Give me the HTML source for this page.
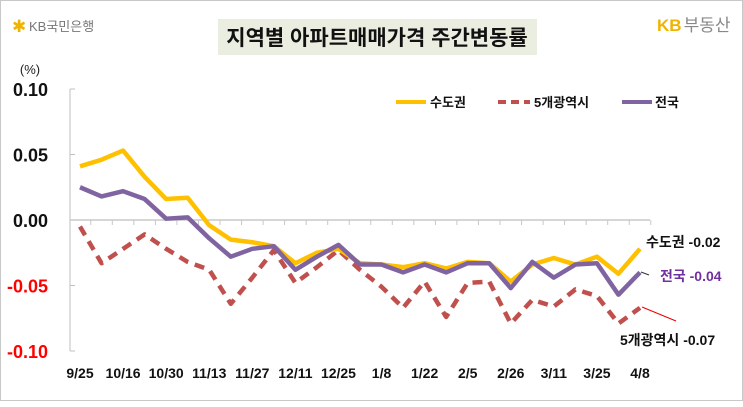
<!DOCTYPE html>
<html><head><meta charset="utf-8"><style>
body{margin:0;width:743px;height:402px;background:#fff;overflow:hidden;font-family:"Liberation Sans","Noto Sans CJK KR",sans-serif}
svg text{font-family:"Liberation Sans","Noto Sans CJK KR",sans-serif}
</style></head><body>
<svg width="743" height="402">
<rect x="0.5" y="0.5" width="742" height="400" fill="#fff" stroke="#c8c8c8"/>
<rect x="218" y="18" width="319" height="55" fill="#e9eee0" transform="translate(0,0)" style="display:none"/>
<rect x="218" y="19" width="319" height="36" fill="#e9eee0"/>
<text x="377" y="45" text-anchor="middle" font-size="21" font-weight="bold" fill="#111">지역별 아파트매매가격 주간변동률</text>
<text x="12" y="32" font-size="17" fill="#f0b400">✱</text>
<text x="29" y="31" font-size="13" fill="#777">KB국민은행</text>
<text x="657" y="31" font-size="17" font-weight="bold" fill="#f0b400">KB<tspan fill="#888" font-weight="normal" dx="2">부동산</tspan></text>
<text x="30" y="74" text-anchor="middle" font-size="13" fill="#222">(%)</text>
<g id="axes"></g>
<g id="series"></g>
<g>
<line x1="396" y1="102" x2="426" y2="102" stroke="#ffc000" stroke-width="4"/>
<text x="430" y="107" font-size="13" font-weight="bold" fill="#111">수도권</text>
<line x1="498" y1="102" x2="530" y2="102" stroke="#c0504d" stroke-width="4" stroke-dasharray="8,5"/>
<text x="534" y="107" font-size="13" font-weight="bold" fill="#111">5개광역시</text>
<line x1="622" y1="102" x2="652" y2="102" stroke="#8064a2" stroke-width="4"/>
<text x="655" y="107" font-size="13" font-weight="bold" fill="#111">전국</text>
</g>
<text x="646" y="247" font-size="14" font-weight="bold" fill="#111">수도권 -0.02</text>
<line x1="641" y1="272" x2="649" y2="275" stroke="#333" stroke-width="1"/>
<text x="660" y="281" font-size="14" font-weight="bold" fill="#7030a0">전국 -0.04</text>
<line x1="642" y1="307" x2="676" y2="321" stroke="#e00" stroke-width="1"/>
<text x="620" y="345" font-size="14" font-weight="bold" fill="#111">5개광역시 -0.07</text>
</svg>
<script>
const categories=["9/25","","10/16","","10/30","","11/13","","11/27","","12/11","","12/25","","1/8","","1/22","","2/5","","2/26","","3/11","","3/25","","4/8"];
const capital=[0.041,0.046,0.053,0.033,0.016,0.017,-0.004,-0.015,-0.017,-0.020,-0.033,-0.025,-0.022,-0.033,-0.034,-0.036,-0.033,-0.037,-0.032,-0.033,-0.047,-0.034,-0.029,-0.034,-0.028,-0.041,-0.022];
const metro=[-0.005,-0.033,-0.022,-0.011,-0.022,-0.032,-0.038,-0.064,-0.044,-0.023,-0.048,-0.036,-0.023,-0.038,-0.051,-0.067,-0.047,-0.074,-0.048,-0.047,-0.079,-0.061,-0.066,-0.053,-0.058,-0.079,-0.067];
const national=[0.025,0.018,0.022,0.016,0.001,0.002,-0.014,-0.028,-0.022,-0.020,-0.038,-0.028,-0.019,-0.034,-0.034,-0.040,-0.034,-0.040,-0.033,-0.033,-0.052,-0.032,-0.044,-0.034,-0.033,-0.057,-0.040];
const yTicks=[0.10,0.05,0.00,-0.05,-0.10];
const NS="http://www.w3.org/2000/svg";
const x0=80,dx=(640-80)/(categories.length-1);
const xs=i=>x0+i*dx;
const ys=v=>220-v*1310;
const ax=document.getElementById('axes'),sg=document.getElementById('series');
function mk(tag,attrs,parent){const e=document.createElementNS(NS,tag);for(const k in attrs)e.setAttribute(k,attrs[k]);parent.appendChild(e);return e;}
const yl=mk('line',{x1:70,y1:ys(0.10),x2:70,y2:ys(-0.10),stroke:'#bfbfbf'},ax);


yTicks.forEach(t=>{
  const tk=mk('line',{x1:70,y1:ys(t),x2:75,y2:ys(t),stroke:'#bfbfbf'},ax);
  
  
  const tx=mk('text',{x:48,y:ys(t)+7,'text-anchor':'end','font-size':'18','font-weight':'bold',fill:t<0?'#ff0000':'#111'},ax);
  tx.textContent=t.toFixed(2);
  
  
});
const zl=mk('line',{x1:70,y1:ys(0),x2:xs(categories.length-1)+10,y2:ys(0),stroke:'#c8c8c8','stroke-width':1.5},ax);


categories.forEach((c,i)=>{
  const tk=mk('line',{x1:xs(i)+dx/2,y1:ys(0),x2:xs(i)+dx/2,y2:ys(0)+5,stroke:'#c8c8c8'},ax);
  
  
  if(c){
    const tx=mk('text',{x:xs(i),y:378,'text-anchor':'middle','font-size':'14','font-weight':'bold',fill:'#111'},ax);
    tx.textContent=c;
    
    
  }
});
function line(arr,color,dash,name){
  const p=mk('polyline',{points:arr.map((v,i)=>xs(i)+','+ys(v)).join(' '),fill:'none',stroke:color,'stroke-width':4.5,'stroke-linejoin':'round'},sg);
  if(dash)p.setAttribute('stroke-dasharray',dash);
  
  
}
line(metro,'#c0504d','10,7','line-metro');
line(capital,'#ffc000',null,'line-capital');
line(national,'#8064a2',null,'line-national');
</script>
</body></html>
